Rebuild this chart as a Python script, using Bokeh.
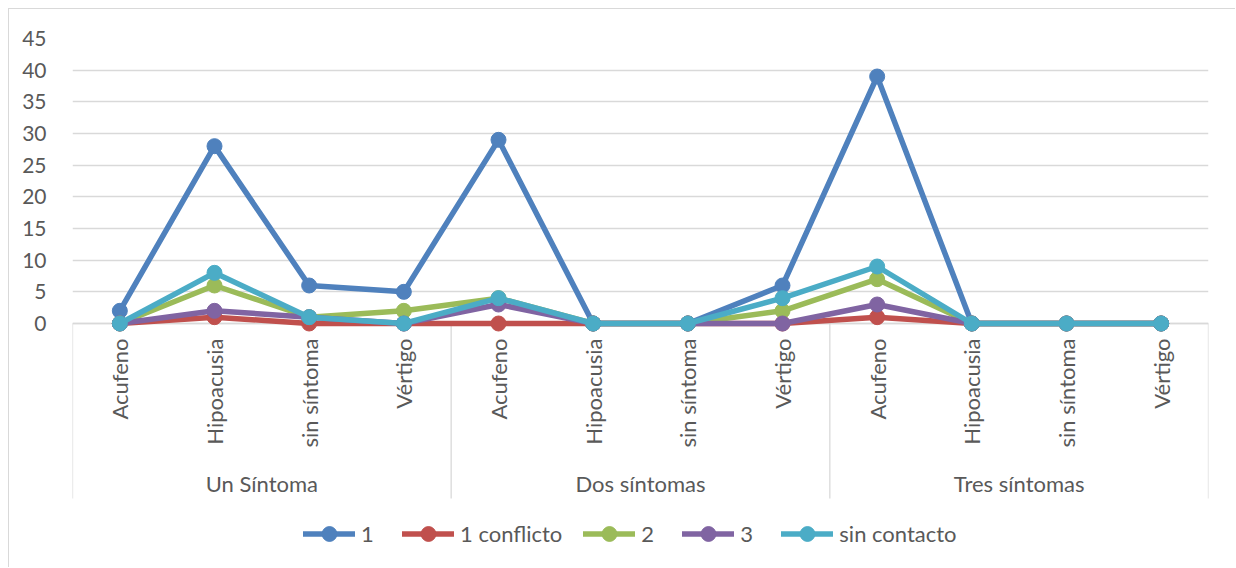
import math
from bokeh.plotting import figure
from bokeh.models import (FactorRange, Range1d, FixedTicker, Legend, LegendItem,
                          ColumnDataSource)
from bokeh.core.properties import value
from bokeh.embed import file_html
from bokeh.resources import INLINE

# Categories: symptom count groups, each with the same four symptoms
groups = ["Un Síntoma", "Dos síntomas", "Tres síntomas"]
symptoms = ["Acufeno", "Hipoacusia", "sin síntoma", "Vértigo"]

series_names = ["1", "1 conflicto", "2", "3", "sin contacto"]
s_1 = [2, 28, 6, 5, 29, 0, 0, 6, 39, 0, 0, 0]
s_1_conflicto = [0, 1, 0, 0, 0, 0, 0, 0, 1, 0, 0, 0]
s_2 = [0, 6, 1, 2, 4, 0, 0, 2, 7, 0, 0, 0]
s_3 = [0, 2, 1, 0, 3, 0, 0, 0, 3, 0, 0, 0]
s_sin_contacto = [0, 8, 1, 0, 4, 0, 0, 4, 9, 0, 0, 0]
y_ticks = [0, 5, 10, 15, 20, 25, 30, 35, 40, 45]

series_values = [s_1, s_1_conflicto, s_2, s_3, s_sin_contacto]
colors = ["#4F81BD", "#C0504D", "#9BBB59", "#8064A2", "#4BACC6"]

factors = [(g, s) for g in groups for s in symptoms]

FONT = "Lato"
TEXT = "#595959"
GRID = "#D9D9D9"

W, H = 1227, 559
# frame geometry (pixels): value axis 0..45 in the upper part; category
# labels, group separators and the legend sit below the zero line
top_px, zero_px, sep_px = 29, 314, 489
ymax = y_ticks[-1]
px_per_unit = (zero_px - top_px) / ymax
ymin = -(H - zero_px) / px_per_unit
y_sep = -(sep_px - zero_px) / px_per_unit

x_range = FactorRange(*factors, factor_padding=0, group_padding=0,
                      subgroup_padding=0, range_padding=0)

p = figure(width=W, height=H, x_range=x_range,
           y_range=Range1d(ymin, ymax),
           output_backend="svg", toolbar_location=None,
           min_border_left=63, min_border_right=28,
           min_border_top=top_px, min_border_bottom=0)
p.styles = {"margin-left": "8px", "margin-top": "8px",
            "border-left": "1px solid #D9D9D9", "border-top": "1px solid #D9D9D9"}
p.outline_line_color = None
p.background_fill_color = "white"
p.border_fill_color = "white"

# value axis
p.yaxis.ticker = FixedTicker(ticks=y_ticks)
p.yaxis.axis_line_color = None
p.yaxis.major_tick_line_color = None
p.yaxis.minor_tick_line_color = None
p.yaxis.major_label_text_font = FONT
p.yaxis.major_label_text_font_size = "21px"
p.yaxis.major_label_text_color = TEXT
p.yaxis.major_label_standoff = 20
p.ygrid.ticker = FixedTicker(ticks=y_ticks)
p.ygrid.grid_line_color = GRID
p.ygrid.grid_line_width = 1.3
p.xgrid.grid_line_color = None
p.xaxis.visible = False

# category axis line on zero and group separators spanning the label band
n = len(symptoms)
bounds = [i * n for i in range(len(groups) + 1)]
p.segment(x0=[bounds[0]], y0=[0], x1=[bounds[-1]], y1=[0],
          line_color=GRID, line_width=1.3)
p.segment(x0=bounds, y0=[0] * len(bounds), x1=bounds, y1=[y_sep] * len(bounds),
          line_color=GRID, line_width=1.3)

# category labels (rotated) and group labels
p.text(x=factors, y=[0] * len(factors), text=[s for _, s in factors],
       angle=math.pi / 2, text_align="right", text_baseline="middle",
       y_offset=15, text_font=value(FONT), text_font_size="22px",
       text_color=TEXT)
p.text(x=groups, y=[0] * len(groups), text=groups,
       text_align="center", text_baseline="middle", y_offset=160,
       text_font=value(FONT), text_font_size="22px", text_color=TEXT)

items = []
for name, vals, col in zip(series_names, series_values, colors):
    src = ColumnDataSource(dict(x=factors, y=vals))
    ln = p.line("x", "y", source=src, line_color=col, line_width=5.5,
                line_join="round", line_cap="round")
    mk = p.scatter("x", "y", source=src, marker="circle", size=15,
                   fill_color=col, line_color=col)
    items.append(LegendItem(label=name, renderers=[ln, mk]))

legend = Legend(items=items, orientation="horizontal", location=(231, 16),
                label_text_font=FONT, label_text_font_size="22px",
                label_text_color=TEXT, glyph_width=52, glyph_height=37,
                label_standoff=6, spacing=21, padding=0, margin=0,
                border_line_color=None, background_fill_alpha=0)
p.add_layout(legend)

open("out.html", "w").write(file_html(p, INLINE))
